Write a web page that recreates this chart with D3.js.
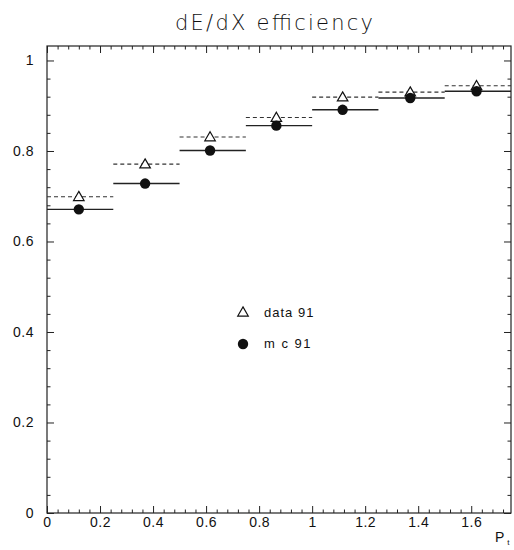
<!DOCTYPE html>
<html><head><meta charset="utf-8">
<script src="https://cdn.jsdelivr.net/npm/d3@7"></script>
<style>
html,body{margin:0;padding:0;background:#fff;}
svg text{font-family:"Liberation Sans",Arial,sans-serif;fill:#111;}
</style></head>
<body><svg id="c" width="514" height="550"></svg>
<script>
const binLow  = [0.00, 0.25, 0.50, 0.75, 1.00, 1.25, 1.50];
const binHigh = [0.25, 0.50, 0.75, 1.00, 1.25, 1.50, 1.75];
const pMean   = [0.12, 0.37, 0.615, 0.865, 1.115, 1.37, 1.62];
const data91  = [0.699, 0.771, 0.831, 0.874, 0.919, 0.930, 0.944];
const mc91    = [0.671, 0.728, 0.801, 0.856, 0.891, 0.917, 0.932];
const xTicks  = [0, 0.2, 0.4, 0.6, 0.8, 1, 1.2, 1.4, 1.6];
const xTickLabels = ["0","0.2","0.4","0.6","0.8","1","1.2","1.4","1.6"];
const yTicks  = [0, 0.2, 0.4, 0.6, 0.8, 1];
const yTickLabels = ["0","0.2","0.4","0.6","0.8","1"];
const legendLabels = ["data 91", "m c 91"];
const title = "dE/dX efficiency";

const L=47, R=511, T=46, B=513;
const x = d3.scaleLinear().domain([0,1.75]).range([L,R]);
const y = d3.scaleLinear().domain([0,1.032]).range([B,T]);
const svg = d3.select("#c");

const xMinor = d3.range(0,1.7501,0.04).filter(v=>Math.abs(v/0.2-Math.round(v/0.2))>1e-6);
const yMinor = d3.range(0,1.0321,0.04).filter(v=>Math.abs(v/0.2-Math.round(v/0.2))>1e-6);

function styleAxis(g){ g.select(".domain").remove(); g.selectAll("line").attr("stroke","#222").attr("stroke-width",1); g.selectAll("text").attr("font-size",14).attr("letter-spacing",0.5).attr("font-family","Liberation Sans, Arial, sans-serif").attr("fill","#111"); }

// frame
svg.append("rect").attr("x",L).attr("y",T).attr("width",R-L).attr("height",B-T)
  .attr("fill","none").attr("stroke","#222").attr("stroke-width",1.2);

// bottom
svg.append("g").attr("transform",`translate(0,${B})`)
  .call(d3.axisBottom(x).tickValues(xTicks).tickFormat((d,i)=>xTickLabels[i]).tickSizeInner(-7).tickSizeOuter(0).tickPadding(4)).call(styleAxis);
svg.append("g").attr("transform",`translate(0,${B})`)
  .call(d3.axisBottom(x).tickValues(xMinor).tickFormat("").tickSizeInner(-3.5).tickSizeOuter(0)).call(styleAxis);
// top
svg.append("g").attr("transform",`translate(0,${T})`)
  .call(d3.axisTop(x).tickValues(xTicks).tickFormat("").tickSizeInner(-7).tickSizeOuter(0)).call(styleAxis);
svg.append("g").attr("transform",`translate(0,${T})`)
  .call(d3.axisTop(x).tickValues(xMinor).tickFormat("").tickSizeInner(-3.5).tickSizeOuter(0)).call(styleAxis);
// left
svg.append("g").attr("transform",`translate(${L},0)`)
  .call(d3.axisLeft(y).tickValues(yTicks).tickFormat((d,i)=>yTickLabels[i]).tickSizeInner(-7).tickSizeOuter(0).tickPadding(13)).call(styleAxis);
svg.append("g").attr("transform",`translate(${L},0)`)
  .call(d3.axisLeft(y).tickValues(yMinor).tickFormat("").tickSizeInner(-3.5).tickSizeOuter(0)).call(styleAxis);
// right
svg.append("g").attr("transform",`translate(${R},0)`)
  .call(d3.axisRight(y).tickValues(yTicks).tickFormat("").tickSizeInner(-7).tickSizeOuter(0)).call(styleAxis);
svg.append("g").attr("transform",`translate(${R},0)`)
  .call(d3.axisRight(y).tickValues(yMinor).tickFormat("").tickSizeInner(-3.5).tickSizeOuter(0)).call(styleAxis);

// title
svg.append("text").attr("x",274).attr("y",30).attr("text-anchor","middle")
  .style("font-family","'DejaVu Sans', 'Liberation Sans', sans-serif").attr("font-weight",200)
  .attr("font-size",21).attr("fill","#222").attr("textLength",198).attr("lengthAdjust","spacing").text(title);

// axis label P_t
const pl = svg.append("text").attr("x",495).attr("y",542).attr("font-size",14);
pl.append("tspan").text("P");
pl.append("tspan").attr("dx",3).attr("dy",3).attr("font-size",8).text("t");

const idx = d3.range(binLow.length);
// data 91 dashed
svg.append("g").selectAll("line").data(idx).join("line")
  .attr("x1",i=>x(binLow[i])).attr("x2",i=>x(binHigh[i]))
  .attr("y1",i=>y(data91[i])).attr("y2",i=>y(data91[i]))
  .attr("stroke","#333").attr("stroke-width",1.1).attr("stroke-dasharray","4,3");
// mc 91 solid
svg.append("g").selectAll("line").data(idx).join("line")
  .attr("x1",i=>x(binLow[i])).attr("x2",i=>x(binHigh[i]))
  .attr("y1",i=>y(mc91[i])).attr("y2",i=>y(mc91[i]))
  .attr("stroke","#222").attr("stroke-width",1.4);

const tri = d3.symbol().type(d3.symbolTriangle).size(48);
svg.append("g").selectAll("path").data(idx).join("path")
  .attr("d",tri).attr("transform",i=>`translate(${x(pMean[i])},${y(data91[i])+0.8})`)
  .attr("fill","#fff").attr("stroke","#111").attr("stroke-width",1.2);
svg.append("g").selectAll("circle").data(idx).join("circle")
  .attr("cx",i=>x(pMean[i])).attr("cy",i=>y(mc91[i])).attr("r",5.2).attr("fill","#111");

// legend
svg.append("path").attr("d",tri).attr("transform","translate(243,313)")
  .attr("fill","#fff").attr("stroke","#111").attr("stroke-width",1.2);
svg.append("circle").attr("cx",243).attr("cy",344).attr("r",5.2).attr("fill","#111");
svg.append("text").attr("x",264).attr("y",317).attr("font-size",13).attr("letter-spacing",1).text(legendLabels[0]);
svg.append("text").attr("x",264).attr("y",348).attr("font-size",13).attr("letter-spacing",1.5).text(legendLabels[1]);
</script></body></html>
